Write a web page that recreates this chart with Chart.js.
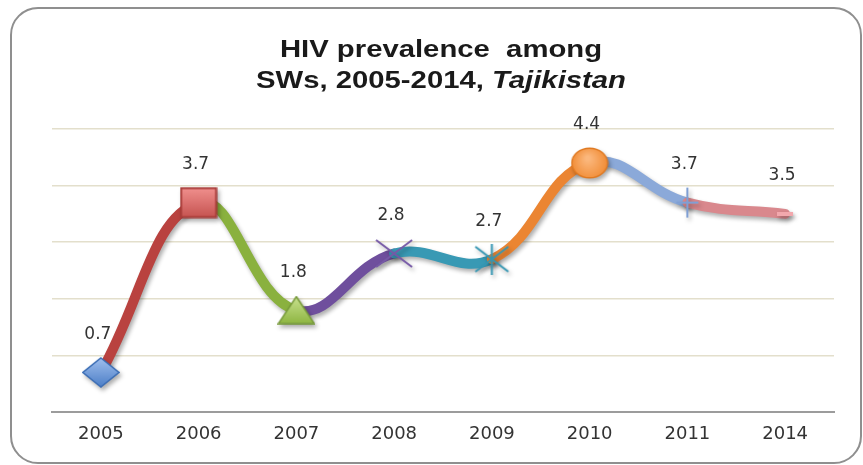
<!DOCTYPE html>
<html>
<head>
<meta charset="utf-8">
<script src="https://cdn.jsdelivr.net/npm/chart.js@4.4.1/dist/chart.umd.min.js"></script>
<style>
  html, body { margin: 0; padding: 0; background: #ffffff; }
  #wrap { position: relative; width: 863px; height: 465px; overflow: hidden; }
  #card {
    position: absolute; left: 10px; top: 7px; width: 848px; height: 453px;
    border: 2px solid #8f8f8f; border-radius: 28px; box-sizing: content-box;
  }
  #title {
    position: absolute; left: 241px; width: 400px; top: 33px;
    text-align: center; font-family: "Liberation Sans", Arial, sans-serif;
    font-weight: bold; font-size: 24px; line-height: 31px; color: #1a1a1a;
    transform: scaleX(1.22); transform-origin: 50% 0;
    white-space: nowrap;
  }
  #title i { font-style: italic; }
  canvas { position: absolute; left: 0; top: 0; }
</style>
</head>
<body>
<div id="wrap">
  <div id="card"></div>
  <canvas id="chart" width="863" height="465"></canvas>
  <div id="title">HIV prevalence&nbsp; among<br>SWs, 2005-2014, <i>Tajikistan</i></div>
</div>
<script>
// Survey years and HIV prevalence (%) among sex workers
const years = ["2005", "2006", "2007", "2008", "2009", "2010", "2011", "2014"];
const prevalence = [0.7, 3.7, 1.8, 2.8, 2.7, 4.4, 3.7, 3.5];
const valueLabels = ["0.7", "3.7", "1.8", "2.8", "2.7", "4.4", "3.7", "3.5"];

// One colour per connecting segment (Office "vary colours by point" palette)
const segmentColors = ["#b9423f", "#8ab13e", "#6f4f9d", "#3899b4", "#eb8532", "#8ba9d9", "#d9888d"];

function makeMarker(w, h, draw) {
  const c = document.createElement("canvas");
  c.width = w; c.height = h;
  const g = c.getContext("2d");
  draw(g, w, h);
  return c;
}

const markers = [
  // diamond
  makeMarker(38, 31, (g, w, h) => {
    const gr = g.createLinearGradient(0, 0, 0, h);
    gr.addColorStop(0, "#a3c1ef"); gr.addColorStop(1, "#4a7dc6");
    g.beginPath(); g.moveTo(w / 2, 1); g.lineTo(w - 1, h / 2); g.lineTo(w / 2, h - 1); g.lineTo(1, h / 2); g.closePath();
    g.fillStyle = gr; g.fill(); g.lineWidth = 1.5; g.strokeStyle = "#3a6cb4"; g.stroke();
  }),
  // square
  makeMarker(38, 32, (g, w, h) => {
    const gr = g.createLinearGradient(0, 0, 0, h);
    gr.addColorStop(0, "#f29290"); gr.addColorStop(1, "#c4514e");
    g.fillStyle = gr; g.fillRect(1.5, 1.5, w - 3, h - 3);
    g.lineWidth = 2; g.strokeStyle = "#a83c39"; g.strokeRect(1.5, 1.5, w - 3, h - 3);
  }),
  // triangle
  makeMarker(38, 29, (g, w, h) => {
    const gr = g.createLinearGradient(0, 0, 0, h);
    gr.addColorStop(0, "#cbe392"); gr.addColorStop(1, "#8cb43f");
    g.beginPath(); g.moveTo(w / 2, 1); g.lineTo(w - 1, h - 1); g.lineTo(1, h - 1); g.closePath();
    g.fillStyle = gr; g.fill(); g.lineWidth = 1.5; g.strokeStyle = "#76993a"; g.stroke();
  }),
  // cross
  makeMarker(38, 29, (g, w, h) => {
    g.strokeStyle = "#7659a6"; g.lineWidth = 2;
    g.beginPath(); g.moveTo(1, 1); g.lineTo(w - 1, h - 1); g.moveTo(w - 1, 1); g.lineTo(1, h - 1); g.stroke();
  }),
  // star
  makeMarker(37, 31, (g, w, h) => {
    g.strokeStyle = "#3596b2"; g.lineWidth = 2;
    g.beginPath(); g.moveTo(2, 3); g.lineTo(w - 2, h - 3); g.moveTo(w - 2, 3); g.lineTo(2, h - 3);
    g.moveTo(w / 2, 0); g.lineTo(w / 2, h); g.stroke();
  }),
  // circle
  makeMarker(38, 32, (g, w, h) => {
    const gr = g.createRadialGradient(w * 0.45, h * 0.35, 2, w / 2, h / 2, w / 2);
    gr.addColorStop(0, "#fbb77c"); gr.addColorStop(1, "#f08a32");
    g.beginPath(); g.ellipse(w / 2, h / 2, w / 2 - 1.2, h / 2 - 1.2, 0, 0, Math.PI * 2);
    g.fillStyle = gr; g.fill(); g.lineWidth = 1.5; g.strokeStyle = "#e07a22"; g.stroke();
  }),
  // plus
  makeMarker(24, 32, (g, w, h) => {
    g.strokeStyle = "#7f9fd4"; g.lineWidth = 2;
    g.beginPath(); g.moveTo(w / 2, 1); g.lineTo(w / 2, h - 1); g.moveTo(1, h / 2); g.lineTo(w - 1, h / 2); g.stroke();
  }),
  // dash
  makeMarker(16, 4, (g, w, h) => {
    g.fillStyle = "#f2a8ad"; g.fillRect(0, 0, w, h);
  })
];

// Soft drop shadow under the line and markers, then value labels on top
const decor = {
  id: "decor",
  beforeDatasetsDraw(chart) {
    const ctx = chart.ctx;
    ctx.save();
    ctx.shadowColor = "rgba(0,0,0,0.32)";
    ctx.shadowBlur = 4;
    ctx.shadowOffsetX = 2;
    ctx.shadowOffsetY = 3;
  },
  afterDatasetsDraw(chart) {
    const ctx = chart.ctx;
    ctx.restore();
    const meta = chart.getDatasetMeta(0);
    ctx.save();
    ctx.font = "17px 'DejaVu Sans', Verdana, sans-serif";
    ctx.fillStyle = "#333333";
    ctx.textAlign = "center";
    ctx.textBaseline = "middle";
    meta.data.forEach((pt, i) => {
      ctx.fillText(valueLabels[i], pt.x - 3, pt.y - 38);
    });
    ctx.restore();
  }
};

new Chart(document.getElementById("chart"), {
  type: "line",
  data: {
    labels: years,
    datasets: [{
      data: prevalence,
      borderWidth: 10,
      borderColor: segmentColors[0],
      segment: { borderColor: ctx => segmentColors[ctx.p0DataIndex] },
      tension: 0.42,
      borderCapStyle: "round",
      borderJoinStyle: "round",
      pointStyle: markers,
      pointRadius: 14,
      pointHoverRadius: 14,
      clip: false
    }]
  },
  options: {
    responsive: false,
    animation: false,
    events: [],
    layout: { padding: { left: 52, right: 29, top: 129, bottom: 18 } },
    plugins: { legend: { display: false }, tooltip: { enabled: false }, title: { display: false } },
    scales: {
      x: {
        type: "category",
        offset: true,
        grid: { display: false, drawTicks: false },
        border: { display: true, color: "#9c9c9c", width: 2 },
        ticks: {
          color: "#333333",
          font: { family: "'DejaVu Sans', Verdana, sans-serif", size: 18 },
          padding: 12,
          maxRotation: 0
        },
        afterFit: s => { s.height = 35; }
      },
      y: {
        min: 0, max: 5,
        ticks: { display: false, stepSize: 1 },
        border: { display: false },
        grid: {
          drawTicks: false,
          lineWidth: 1.5,
          color: c => (c.tick && c.tick.value === 0) ? "rgba(0,0,0,0)" : "#e3dfcc"
        },
        afterFit: s => { s.width = 0; }
      }
    }
  },
  plugins: [decor]
});
</script>
</body>
</html>
